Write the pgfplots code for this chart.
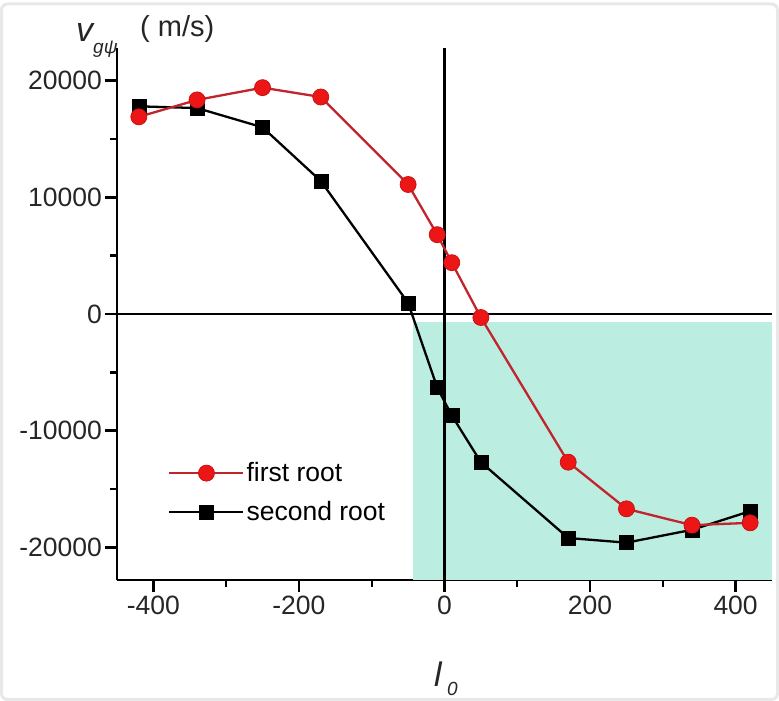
\documentclass[border=0pt]{standalone}
\usepackage{fontspec}
\setmainfont{Liberation Sans}
\usepackage{pgfplots}
\pgfplotsset{compat=1.18}
\definecolor{mint}{RGB}{187,237,224}
\definecolor{rootred}{RGB}{236,22,22}
\definecolor{linered}{RGB}{192,36,44}

\begin{document}
\begin{tikzpicture}[x=1pt,y=1pt]
\useasboundingbox (0,0) rectangle (779,701);
\draw[black!9, line width=3pt, rounded corners=6pt] (1.5,1.5) rectangle (777.5,697);
\begin{axis}[
  at={(117pt,121pt)}, anchor=south west,
  scale only axis, width=655pt, height=532pt,
  xmin=-450, xmax=450, ymin=-22800, ymax=22800,
  axis lines=left, axis line style={-, line width=2.6pt},
  clip=false,
  scaled x ticks=false, scaled y ticks=false,
  xtick={-400,-200,0,200,400},
  xticklabels={-400,-200,0,200,400},
  minor xtick={-300,-100,100,300},
  ytick={-20000,-10000,0,10000,20000},
  yticklabels={-20000,-10000,0,10000,20000},
  minor ytick={-15000,-5000,5000,15000},
  tick align=outside,
  major tick length=12pt, minor tick length=7pt,
  every tick/.style={black, line width=2.4pt},
  tick label style={font=\fontsize{26.5}{30}\selectfont, text=black!85},
  yticklabel style={inner xsep=3pt},
  legend style={draw=none, fill=none, at={(0.078,0.1645)}, anchor=west,
    inner sep=0pt, row sep=14pt, font=\fontsize{26.5}{30}\selectfont,
    /tikz/every even column/.append style={column sep=7pt}},
  legend cell align=left,
  reverse legend,
  legend image code/.code={
    \draw[#1, mark repeat=2, mark phase=2] plot coordinates {(0pt,0pt) (37pt,0pt) (74pt,0pt)};
  },
]
% shaded quadrant of negative group velocity
\fill[mint] (axis cs:-43,-690) rectangle (axis cs:450,-22800);
% zero lines
\draw[line width=2.4pt] (axis cs:0,-22800) -- (axis cs:0,22800);
\draw[line width=2.4pt] (axis cs:-450,0) -- (axis cs:450,0);

\addplot[black, line width=2.3pt, mark=square*, mark size=7pt,
  mark options={fill=black, line width=0.5pt}] coordinates {
  (-420,17800) (-340,17650) (-250,16000) (-170,11400) (-50,950)
  (-10,-6300) (10,-8700) (50,-12700) (170,-19200) (250,-19600)
  (340,-18500) (420,-16900)
};
\addlegendentry{second root}

\addplot[linered, line width=2.3pt, mark=*, mark size=8pt,
  mark options={fill=rootred, draw=rootred!85!black, line width=0.8pt}] coordinates {
  (-420,16900) (-340,18350) (-250,19400) (-170,18600) (-50,11100)
  (-10,6800) (10,4400) (50,-300) (170,-12700) (250,-16700)
  (340,-18100) (420,-17900)
};
\addlegendentry{first root}
\end{axis}

% axis titles
\node[anchor=base west, inner sep=0pt, font=\itshape\fontsize{34}{36}\selectfont, text=black!85] at (76,659) {v};
\node[anchor=base west, inner sep=0pt, font=\itshape\fontsize{19}{20}\selectfont, text=black!85] at (93,647) {gψ};
\node[anchor=base west, inner sep=0pt, font=\fontsize{29}{32}\selectfont, text=black!85] at (140,664) {(\ m/s)};
\node[anchor=base west, inner sep=0pt, font=\itshape\fontsize{34}{36}\selectfont, text=black!85] at (434,14) {l};
\node[anchor=base west, inner sep=0pt, font=\itshape\fontsize{19}{20}\selectfont, text=black!85] at (447,5) {0};
\end{tikzpicture}
\end{document}
